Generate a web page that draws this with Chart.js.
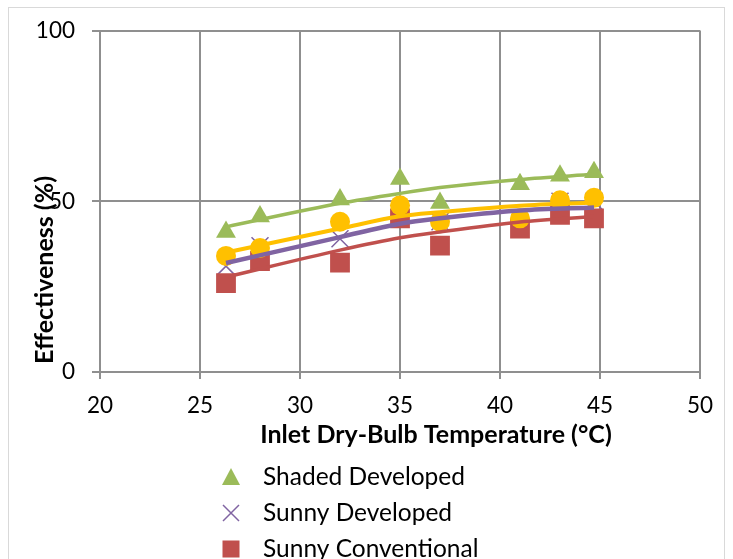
<!DOCTYPE html>
<html>
<head>
<meta charset="utf-8">
<script src="https://cdn.jsdelivr.net/npm/chart.js@4.4.1/dist/chart.umd.min.js"></script>
<style>
html,body{margin:0;padding:0;background:#fff;overflow:hidden;}
canvas{display:block;}
</style>
</head>
<body>
<canvas id="c" width="733" height="559"></canvas>
<script>
// ---- data ----
const xTicks = [20, 25, 30, 35, 40, 45, 50];
const yTicks = [0, 50, 100];
const temps = [26.3, 28, 32, 35, 37, 41, 43, 44.7];
const shadedDeveloped   = [41, 45.5, 50.5, 56.5, 49.5, 55, 57.5, 58.5];
const sunnyDeveloped    = [31, 37, 39, 46, 44, 45, 50, 50];
const sunnyConventional = [26, 32.5, 32, 45, 37, 42, 46, 45];
const shadedConventional= [34, 36.3, 44, 48.8, 44, 45, 50.3, 51];
// trendlines
const trendX = [26.3, 32, 35, 37, 41, 44.7];
const trendShadedDev   = [42.5, 49.4, 52.3, 54, 56.4, 57.9];
const trendSunnyDev    = [31.9, 39.5, 43.4, 45, 47.3, 48.2];
const trendSunnyConv   = [27.8, 35.7, 39.3, 41, 43.9, 45.5];
const trendShadedConv  = [35, 42, 45.6, 46.8, 48.7, 49.6];
const seriesNames = ['Shaded Developed', 'Sunny Developed', 'Sunny Conventional', 'Shaded Conventional'];

const GREEN = '#9BBB59', PURPLE = '#8064A2', RED = '#C0504D', YELLOW = '#FFC000';
const FONT = 'Lato, "Liberation Sans", sans-serif';

function pts(xs, ys){ return xs.map((x,i)=>({x:x, y:ys[i]})); }

function markerDS(label, ys, color, style, radius, order, lw){
  return {label, data: pts(temps, ys), pointStyle: style, pointRadius: radius, pointHoverRadius: radius,
    backgroundColor: color, borderColor: color, pointBorderWidth: lw||0, showLine:false, order};
}
function trendDS(ys, color, width, order){
  return {label:'trend', data: pts(trendX, ys), showLine:true, pointRadius:0, borderColor: color,
    borderWidth: width, cubicInterpolationMode:'monotone', fill:false, order};
}

const frame = {
  id:'frame',
  beforeDraw(chart){
    const ctx = chart.ctx;
    ctx.save();
    ctx.fillStyle = '#fff';
    ctx.fillRect(0,0,chart.width,chart.height);
    ctx.strokeStyle = '#d9d9d9';
    ctx.lineWidth = 1;
    ctx.strokeRect(8.5, 7.5, 716, 620);
    ctx.restore();
  },
  afterDraw(chart){
    const ctx = chart.ctx;
    ctx.save();
    ctx.fillStyle = '#000';
    ctx.font = 'bold 25px ' + FONT;
    ctx.textAlign = 'center';
    ctx.textBaseline = 'middle';
    ctx.fillText('Inlet Dry-Bulb Temperature (°C)', 436, 435);
    ctx.translate(45, 270);
    ctx.rotate(-Math.PI/2);
    ctx.fillText('Effectiveness (%)', 0, 0);
    ctx.restore();
    // legend
    ctx.save();
    const colors = [GREEN, PURPLE, RED, YELLOW];
    ctx.font = '24.5px ' + FONT;
    ctx.textAlign = 'left';
    ctx.textBaseline = 'middle';
    for (let i=0;i<seriesNames.length;i++){
      const y = 477 + i*36, x = 231;
      ctx.fillStyle = colors[i]; ctx.strokeStyle = colors[i];
      if (i===0){
        ctx.beginPath(); ctx.moveTo(x, y-9); ctx.lineTo(x+9, y+8); ctx.lineTo(x-9, y+8); ctx.closePath(); ctx.fill();
      } else if (i===1){
        ctx.lineWidth = 1.5; ctx.beginPath();
        ctx.moveTo(x-8,y-8); ctx.lineTo(x+8,y+8); ctx.moveTo(x+8,y-8); ctx.lineTo(x-8,y+8); ctx.stroke();
      } else if (i===2){
        ctx.fillRect(x-8.5, y-8.5, 17, 17);
      } else {
        ctx.beginPath(); ctx.arc(x, y, 9, 0, Math.PI*2); ctx.fill();
      }
      ctx.fillStyle = '#000';
      ctx.fillText(seriesNames[i], 263, y);
    }
    ctx.restore();
  }
};

new Chart(document.getElementById('c'), {
  type: 'scatter',
  data: {
    datasets: [
      markerDS(seriesNames[0], shadedDeveloped, GREEN, 'triangle', 11.5, 10),
      markerDS(seriesNames[1], sunnyDeveloped, PURPLE, 'crossRot', 12, 9, 1.5),
      markerDS(seriesNames[2], sunnyConventional, RED, 'rect', 14, 8),
      markerDS(seriesNames[3], shadedConventional, YELLOW, 'circle', 10, 7),
      trendDS(trendShadedDev, GREEN, 3.5, 6),
      trendDS(trendSunnyConv, RED, 3.5, 5),
      trendDS(trendShadedConv, YELLOW, 4, 4),
      trendDS(trendSunnyDev, PURPLE, 4.5, 3)
    ]
  },
  options: {
    responsive: false,
    animation: false,
    events: [],
    layout: { padding: { top: 30, right: 33, bottom: 115, left: 0 } },
    plugins: { legend: { display: false }, tooltip: { enabled: false }, title: { display: false } },
    scales: {
      x: {
        type: 'linear', min: 20, max: 50,
        afterBuildTicks(s){ s.ticks = xTicks.map(v=>({value:v})); },
        afterFit(s){ s.height = 72; },
        grid: { color: '#8f8f8f', lineWidth: 2, tickLength: 7, drawTicks: true },
        border: { display: true, color: '#8f8f8f', width: 2 },
        ticks: { color: '#000', font: { family: FONT, size: 22.5 }, padding: 13, maxRotation: 0 }
      },
      y: {
        type: 'linear', min: 0, max: 100,
        afterBuildTicks(s){ s.ticks = yTicks.map(v=>({value:v})); },
        afterFit(s){ s.width = 100; },
        grid: { color: '#8f8f8f', lineWidth: 2, tickLength: 8, drawTicks: true },
        border: { display: true, color: '#8f8f8f', width: 2 },
        ticks: { color: '#000', font: { family: FONT, size: 22.5 }, padding: 17 }
      }
    }
  },
  plugins: [frame]
});
</script>
</body>
</html>
